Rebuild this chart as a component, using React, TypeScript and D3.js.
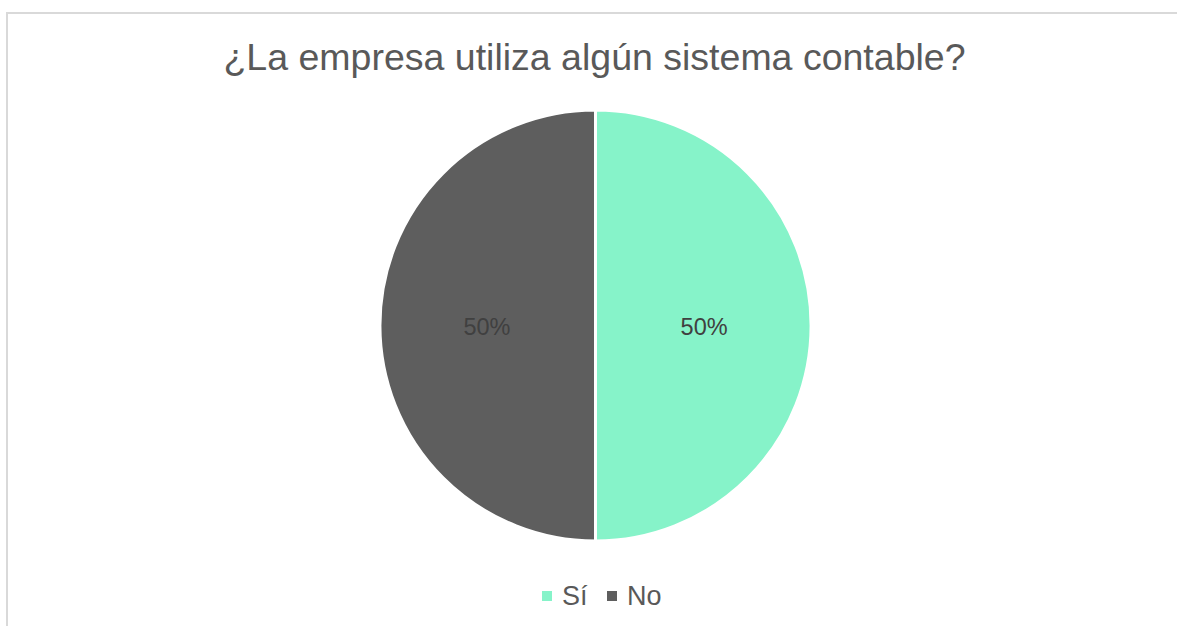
import React from "react";
import * as d3 from "d3";

const categories = ["Sí", "No"];
const values = [50, 50];
const colors = ["#86F3C9", "#5E5E5E"];
const labelColors = ["#404040", "#404040"];
const title = "¿La empresa utiliza algún sistema contable?";

const W = 1177;
const H = 626;

export default function App() {
  const cx = 595.5;
  const cy = 325.5;
  const r = 215.5;
  const pie = d3.pie<number>().sort(null).value((d) => d)(values);
  const arc = d3.arc<d3.PieArcDatum<number>>().innerRadius(0).outerRadius(r);
  const labelArc = d3.arc<d3.PieArcDatum<number>>().innerRadius(r * 0.504).outerRadius(r * 0.504);
  const total = d3.sum(values);
  const font = "'Liberation Sans', Arial, sans-serif";

  const legendX = [542, 607];
  return (
    <svg width={W} height={H} style={{ position: "absolute", left: 0, top: 0, background: "#fff" }}>
      <rect x={7} y={13} width={W + 20} height={H + 20} fill="#fff" stroke="#D9D9D9" strokeWidth={2} />
      <text x={594.5} y={70} textAnchor="middle" fontFamily={font} fontSize={37.5} fill="#595959">
        {title}
      </text>
      <g transform={`translate(${cx},${cy})`}>
        {pie.map((p, i) => (
          <path key={i} d={arc(p) || ""} fill={colors[i]} stroke="#fff" strokeWidth={3} />
        ))}
        {pie.map((p, i) => {
          const [x, y] = labelArc.centroid(p);
          return (
            <text key={"l" + i} x={x} y={y + 9} textAnchor="middle" fontFamily={font} fontSize={23.5} fill={labelColors[i]}>
              {d3.format(".0%")(p.data / total)}
            </text>
          );
        })}
      </g>
      {categories.map((c, i) => (
        <g key={c}>
          <rect x={legendX[i]} y={591} width={10} height={10} fill={colors[i]} />
          <text x={legendX[i] + 20} y={605} fontFamily={font} fontSize={27} fill="#595959">
            {c}
          </text>
        </g>
      ))}
    </svg>
  );
}
